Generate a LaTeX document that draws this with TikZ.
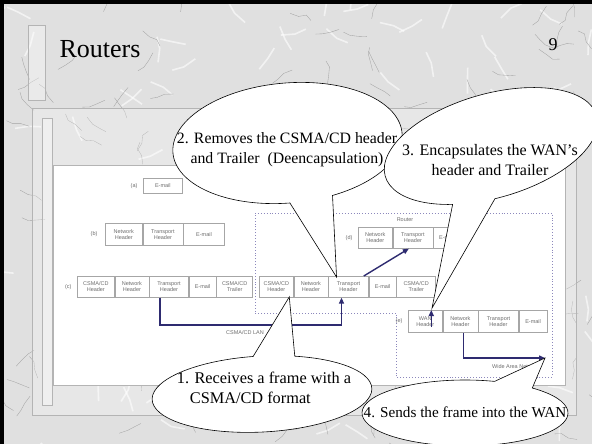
\documentclass[tikz,border=0pt]{standalone}
\usepackage{fontspec}
\setmainfont{Liberation Serif}
\setsansfont{Liberation Sans}
\usetikzlibrary{arrows.meta,positioning}
\definecolor{marble}{HTML}{E0E0E0}
\definecolor{veingray}{HTML}{A4A4A4}
\definecolor{framegray}{HTML}{B4B4B4}
\definecolor{boxgray}{HTML}{A6A6A6}
\definecolor{boxtext}{HTML}{6E6E6E}
\definecolor{lannavy}{HTML}{2E2B70}
\definecolor{routerline}{HTML}{8C88BC}
\tikzset{
  hdrbox/.style={
    rectangle, draw=boxgray, fill=white, line width=0.6pt,
    text width=#1, minimum height=21pt, inner sep=0pt,
    font=\fontsize{5.5}{6.2}\sffamily, text=boxtext, align=center
  },
  hdrbox/.default=34pt,
  rowlabel/.style={font=\fontsize{5.5}{6}\sffamily, text=boxtext},
  netlabel/.style={font=\fontsize{5.5}{6}\sffamily, text=boxtext},
  netarrow/.style={
    -{Triangle[length=6pt,width=5pt]}, line width=1.4pt, color=lannavy
  },
  bubble/.style={draw=black, fill=white, line width=0.6pt},
  saytext/.style={align=center, inner sep=0pt, font=\fontsize{#1}{20}\selectfont},
  saytext/.default=16,
  vein/.style={draw=veingray, line width=0.35pt},
  blotch/.style={draw=white, line width=1.6pt, opacity=0.6},
}
\begin{document}
\begin{tikzpicture}[x=1pt, y=-1pt, node distance=0pt]
  \useasboundingbox (0,0) rectangle (592,444);
  % marble slide
  \fill[marble] (0,0) rectangle (592,444);
  \pgfmathsetseed{17}
  \foreach \k in {1,...,90}{
    \pgfmathsetmacro\vx{rnd*592}
    \pgfmathsetmacro\vy{rnd*444}
    \pgfmathsetmacro\va{rnd*360}
    \draw[blotch] (\vx,\vy) -- ++({\va}:14) -- ++({\va+50*rnd-25}:12);
  }
  \foreach \k in {1,...,160}{
    \pgfmathsetmacro\vx{rnd*592}
    \pgfmathsetmacro\vy{rnd*444}
    \pgfmathsetmacro\va{rnd*360}
    \draw[vein] (\vx,\vy) -- ++({\va}:9) -- ++({\va+60*rnd-30}:8) -- ++({\va+80*rnd-40}:7);
  }
  \fill[black] (0,0) rectangle (592,4);
  \fill[black] (0,0) rectangle (4,444);
  % frames
  \draw[framegray, fill=white, fill opacity=0.35] (28,25) rectangle (45,100);
  \draw[framegray, fill=white, fill opacity=0.25] (32,108) rectangle (576,415);
  \draw[framegray, fill=white, fill opacity=0.35] (42,118) rectangle (52,405);
  \fill[white] (53,165) rectangle (565,385);
  \draw[framegray] (53,165) rectangle (565,385);
  \node[font=\fontsize{26}{30}\selectfont, anchor=base west] (title) at (56,58) {Routers};
  \node[font=\fontsize{18}{20}\selectfont] (pageno) at (553,45) {9};

  % router box
  \draw[routerline, dotted, line width=0.9pt]
    (255,213) -- (552,213) -- (552,377) -- (396,377) -- (396,313) -- (255,313) -- cycle;
  \node[netlabel] (routerlbl) at (405,220) {Router};

  % (a)
  \node[hdrbox=39pt, minimum height=15pt, anchor=north west] (a1) at (143,178) {E-mail};
  \node[rowlabel, left=2pt of a1] (alab) {(a)};
  % (b)
  \node[hdrbox=37pt, minimum height=22pt, anchor=north west] (b1) at (105,223) {Network\\Header};
  \node[hdrbox=40pt, minimum height=22pt, right=of b1] (b2) {Transport\\Header};
  \node[hdrbox=41pt, minimum height=22pt, right=of b2] (b3) {E-mail};
  \node[rowlabel, left=4pt of b1] (blab) {(b)};
  % (c)
  \node[hdrbox=37pt, anchor=north west] (c1) at (77,276) {CSMA/CD\\Header};
  \node[hdrbox, right=of c1] (c2) {Network\\Header};
  \node[hdrbox=39pt, right=of c2] (c3) {Transport\\Header};
  \node[hdrbox=27pt, right=of c3] (c4) {E-mail};
  \node[hdrbox=36pt, right=of c4] (c5) {CSMA/CD\\Trailer};
  \node[rowlabel, left=2pt of c1] (clab) {(c)};
  % frame inside the router
  \node[hdrbox, anchor=north west] (r1) at (259,276) {CSMA/CD\\Header};
  \node[hdrbox, right=of r1] (r2) {Network\\Header};
  \node[hdrbox=40pt, right=of r2] (r3) {Transport\\Header};
  \node[hdrbox=27pt, right=of r3] (r4) {E-mail};
  \node[hdrbox=39pt, right=of r4] (r5) {CSMA/CD\\Trailer};
  % (d)
  \node[hdrbox, anchor=north west] (d1) at (358,227) {Network\\Header};
  \node[hdrbox=40pt, right=of d1] (d2) {Transport\\Header};
  \node[hdrbox=27pt, right=of d2] (d3) {E-mail};
  \node[rowlabel, left=2pt of d1] (dlab) {(d)};
  % (e)
  \node[hdrbox, minimum height=22pt, anchor=north west] (e1) at (408,310) {WAN\\Header};
  \node[hdrbox=35pt, minimum height=22pt, right=of e1] (e2) {Network\\Header};
  \node[hdrbox=40pt, minimum height=22pt, right=of e2] (e3) {Transport\\Header};
  \node[hdrbox=28pt, minimum height=22pt, right=of e3] (e4) {E-mail};
  \node[rowlabel, left=2pt of e1] (elab) {(e)};

  % links
  \coordinate (lanlow) at (160,325);
  \coordinate (wanend) at (545,358);
  \draw[netarrow] (c3.south -| lanlow) -- (lanlow) -| ([xshift=-7pt]r3.south);
  \node[netlabel] (lanlbl) at (245,333) {CSMA/CD LAN};
  \draw[netarrow] ([xshift=-5pt]r3.north east) -- ([xshift=-4pt]d2.south);
  \draw[netarrow] ([xshift=3pt]e2.south) |- (wanend);
  \node[netlabel, anchor=north east] (wanlbl) at (543,361) {Wide Area Network};

  % call-outs
  \coordinate (say2c) at (287.5,143);
  \coordinate (say3c) at (491,146);
  \coordinate (say1c) at (262,394);
  \coordinate (say4c) at (465,413);
  \begin{scope}[shift={(say2c)}, rotate=5]
    \draw[bubble] (91.4:115 and 60)
      arc[start angle=91.4, end angle=429.5, x radius=115, y radius=60]
      -- ([xshift=-12pt]r3.north) -- cycle;
  \end{scope}
  \begin{scope}[shift={(say3c)}, rotate=16]
    \draw[bubble] (118.8:110 and 52)
      arc[start angle=118.8, end angle=455.6, x radius=110, y radius=52]
      -- ([xshift=7pt]e1.north) -- cycle;
  \end{scope}
  \node[saytext=15.8] (say2) at (287,150)
    {2. Removes the CSMA/CD header\\and Trailer \ (Deencapsulation)};
  \node[saytext=16] (say3) at (490,160)
    {3. Encapsulates the WAN's\\header and Trailer};
  \draw[netarrow] ([xshift=6pt, yshift=-17pt]e1.north) -- ([xshift=6pt]e1.north);

  \begin{scope}[shift={(say1c)}, rotate=3]
    \draw[bubble] (288.4:110 and 38)
      arc[start angle=288.4, end angle=626.4, x radius=110, y radius=38]
      -- ([xshift=13pt]r1.south) -- cycle;
  \end{scope}
  \node[saytext=16.3, align=left] (say1) at (264,388)
    {1. Receives a frame with a\\\hspace*{13pt}CSMA/CD format};
  \begin{scope}[shift={(say4c)}]
    \draw[bubble] (310.8:103 and 33)
      arc[start angle=310.8, end angle=646.7, x radius=103, y radius=33]
      -- (wanend) -- cycle;
  \end{scope}
  \node[saytext=15.2] (say4) at (465,412) {4. Sends the frame into the WAN};
\end{tikzpicture}
\end{document}
